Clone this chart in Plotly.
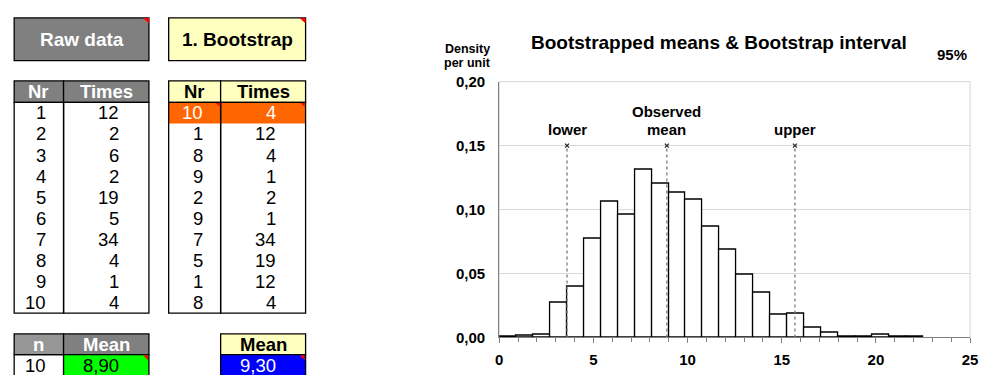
import plotly.graph_objects as go

# ---------------- data ----------------
raw_nr = [1, 2, 3, 4, 5, 6, 7, 8, 9, 10]
raw_times = [12, 2, 6, 2, 19, 5, 34, 4, 1, 4]
boot_nr = [10, 1, 8, 9, 2, 9, 7, 5, 1, 8]
boot_times = [4, 12, 4, 1, 2, 1, 34, 19, 12, 4]
sample_n = 10
raw_mean_text = "8,90"
boot_mean_text = "9,30"

bin_width = 0.9
bin_left = [0.0, 0.9, 1.8, 2.7, 3.6, 4.5, 5.4, 6.3, 7.2, 8.1, 9.0, 9.9, 10.8,
            11.7, 12.6, 13.5, 14.4, 15.3, 16.2, 17.1, 18.0, 18.9, 19.8, 20.7, 21.6]
density = [0.0005, 0.0015, 0.0025, 0.027, 0.040, 0.077, 0.106, 0.096, 0.131,
           0.120, 0.113, 0.108, 0.087, 0.069, 0.049, 0.035, 0.018, 0.019,
           0.008, 0.004, 0.0003, 0.001, 0.0023, 0.0005, 0.0003]

interval_labels = ["lower", "mean", "upper"]
interval_values = [3.6, 8.9, 15.7]
interval_top = 0.15

x_ticks = [0, 5, 10, 15, 20, 25]
y_ticks = [0.0, 0.05, 0.10, 0.15, 0.20]

# ---------------- styling / layout ----------------
FONT = "Arial, Liberation Sans, sans-serif"
W, H = 987, 383
GRAY = "#808080"
YELLOW = "#FFFFC0"

fig = go.Figure()

# histogram
centers = [b + bin_width / 2 for b in bin_left]
fig.add_trace(go.Bar(
    x=centers, y=density, width=bin_width,
    marker=dict(color="white", line=dict(color="black", width=1.3)),
    xaxis="x", yaxis="y", hoverinfo="skip", showlegend=False))

# interval lines
for lab, v in zip(interval_labels, interval_values):
    fig.add_trace(go.Scatter(
        x=[v, v], y=[0, interval_top], mode="lines",
        line=dict(color="#7a7a7a", width=1.3, dash="dot"),
        xaxis="x", yaxis="y", hoverinfo="skip", showlegend=False))
    fig.add_trace(go.Scatter(
        x=[v], y=[interval_top], mode="markers",
        marker=dict(symbol="x-thin", size=4, line=dict(color="#222", width=1.2)),
        xaxis="x", yaxis="y", hoverinfo="skip", showlegend=False))

annotations = []
shapes = []

lab_font = dict(family=FONT, size=15, color="black", weight="bold")
for lab, v in zip(interval_labels, interval_values):
    if lab == "mean":
        annotations.append(dict(x=v, y=interval_top, xref="x", yref="y", text="Observed",
                                showarrow=False, yshift=34, xanchor="center",
                                yanchor="middle", font=lab_font))
    annotations.append(dict(x=v, y=interval_top, xref="x", yref="y", text=lab,
                            showarrow=False, yshift=16.5, xanchor="center",
                            yanchor="middle", font=lab_font))

# chart title etc (paper coords from pixels)
def px(x):
    return x / W

def py(y):
    return 1 - y / H

def ptxt(x, y, s, size):
    annotations.append(dict(x=px(x), y=py(y), xref="paper", yref="paper", text=s,
                            showarrow=False, xanchor="center", yanchor="middle",
                            font=dict(family=FONT, size=size, color="black",
                                      weight="bold")))

ptxt(724, 35, "Bootstrapped means & Bootstrap interval", 19)
ptxt(960, 48, "95%", 15)
ptxt(469, 41.5, "Density", 12.5)
ptxt(469, 56, "per unit", 12.5)

# plot border (light)
shapes.append(dict(type="rect", xref="x domain", yref="y domain", x0=0, x1=1, y0=0, y1=1,
                   line=dict(color="#d4d4d4", width=1), layer="below"))

# ---------------- spreadsheet part (x2/y2 in pixel units) ----------------
def rect(x0, y0, x1, y1, fill="rgba(0,0,0,0)", lc="black", lw=1.3):
    shapes.append(dict(type="rect", xref="x2", yref="y2", x0=x0, x1=x1, y0=y0, y1=y1,
                       fillcolor=fill, line=dict(color=lc, width=lw), layer="above"))

def tri(x, y, s=6):
    shapes.append(dict(type="path", xref="x2", yref="y2",
                       path=f"M {x - s},{y} L {x},{y} L {x},{y + s} Z",
                       fillcolor="#FF0000", line=dict(width=0), layer="above"))

def txt(x, y, s, color="black", bold=False, anchor="center", size=18.5):
    annotations.append(dict(x=x, y=y, xref="x2", yref="y2", text=str(s), showarrow=False,
                            xanchor=anchor, yanchor="middle",
                            font=dict(family=FONT, size=size, color=color,
                                      weight="bold" if bold else "normal")))

# buttons
rect(10.3, 9.3, 146.7, 54, fill=GRAY)
txt(78.5, 32, "Raw data", color="white", bold=True, size=19)
tri(146.7, 9.3)
rect(166.7, 9.3, 305.3, 54, fill=YELLOW)
txt(236, 32, "1. Bootstrap", bold=True, size=19)
tri(305.3, 9.3)

# tables geometry
HT, HB, TB = 75.3, 97.7, 318.3
row_h = (TB - HB) / 10
T1 = (10.3, 60.3, 146.7)
T2 = (166.7, 219.3, 305.3)

# table 1
rect(T1[0], HT, T1[1], HB, fill=GRAY)
rect(T1[1], HT, T1[2], HB, fill=GRAY)
txt((T1[0] + T1[1]) / 2, 86.5, "Nr", color="white", bold=True)
txt((T1[1] + T1[2]) / 2, 86.5, "Times", color="white", bold=True)
rect(T1[0], HB, T1[1], TB)
rect(T1[1], HB, T1[2], TB)
for i, (a, b) in enumerate(zip(raw_nr, raw_times)):
    yc = HB + row_h * (i + 0.5)
    txt(44.5, yc, a, anchor="right")
    txt(118.5, yc, b, anchor="right")

# table 2
rect(T2[0], HT, T2[1], HB, fill=YELLOW)
rect(T2[1], HT, T2[2], HB, fill=YELLOW)
txt((T2[0] + T2[1]) / 2, 86.5, "Nr", bold=True)
txt((T2[1] + T2[2]) / 2, 86.5, "Times", bold=True)
shapes.append(dict(type="rect", xref="x2", yref="y2", x0=T2[0], x1=T2[2], y0=HB,
                   y1=HB + row_h, fillcolor="#FF6600", line=dict(width=0), layer="above"))
rect(T2[0], HB, T2[1], TB)
rect(T2[1], HB, T2[2], TB)
tri(T2[1] - 1, HB + 0.7, 4)
tri(T2[2] - 1, HB + 0.7, 4)
for i, (a, b) in enumerate(zip(boot_nr, boot_times)):
    yc = HB + row_h * (i + 0.5)
    col = "white" if i == 0 else "black"
    txt(203.5, yc, a, color=col, anchor="right")
    txt(277.5, yc, b, color=col, anchor="right")

# summary tables
ST, SM, SB = 340, 361.7, 384
rect(T1[0], ST, T1[1], SM, fill="#969696")
rect(T1[1], ST, T1[2], SM, fill=GRAY)
txt((T1[0] + T1[1]) / 2, 351, "n", color="white", bold=True)
txt((T1[1] + T1[2]) / 2, 351, "Mean", color="white", bold=True)
rect(T1[0], SM, T1[1], SB)
rect(T1[1], SM, T1[2], SB, fill="#00FF00")
tri(T1[2] - 1, SM + 0.7, 5)
txt(44.5, 373, sample_n, anchor="right")
txt(118.5, 373, raw_mean_text, anchor="right")

rect(T2[1], ST, T2[2], SM, fill=YELLOW)
txt((T2[1] + T2[2]) / 2, 351, "Mean", bold=True)
rect(T2[1], SM, T2[2], SB, fill="#0000FF")
tri(T2[2] - 1, SM + 0.7, 5)
txt(277.5, 373, boot_mean_text, color="white", anchor="right")

tick_font = dict(family=FONT, size=15, color="black", weight="bold")
fig.update_layout(
    width=W, height=H, margin=dict(l=0, r=0, t=0, b=0),
    paper_bgcolor="white", plot_bgcolor="white", separators=", ",
    bargap=0, showlegend=False,
    xaxis=dict(domain=[501.3 / W, 978 / W], range=[0, 25], tickmode="array",
               tickvals=x_ticks, ticks="outside", ticklen=5, tickcolor=GRAY,
               showline=True, linecolor=GRAY, linewidth=1, showgrid=False,
               zeroline=False, minor=dict(dtick=1, tick0=0, ticks="outside", ticklen=4,
                                          tickcolor=GRAY),
               ticklabelstandoff=4,
               tickfont=tick_font, anchor="y", fixedrange=True),
    yaxis=dict(domain=[(H - 343.7) / H, (H - 76) / H], range=[0, 0.2], tickmode="array",
               tickvals=y_ticks, tickformat=".2f", showgrid=True, gridcolor="#d9d9d9",
               showline=True, linecolor=GRAY, linewidth=1, zeroline=False, ticks="",
               ticklabelstandoff=10, tickfont=tick_font, anchor="x", fixedrange=True),
    xaxis2=dict(domain=[0, 330 / W], range=[0, 330], visible=False, anchor="y2",
                fixedrange=True),
    yaxis2=dict(domain=[0, 1], range=[H, 0], visible=False, anchor="x2", fixedrange=True),
    annotations=annotations, shapes=shapes,
)

fig.write_html("out.html")
